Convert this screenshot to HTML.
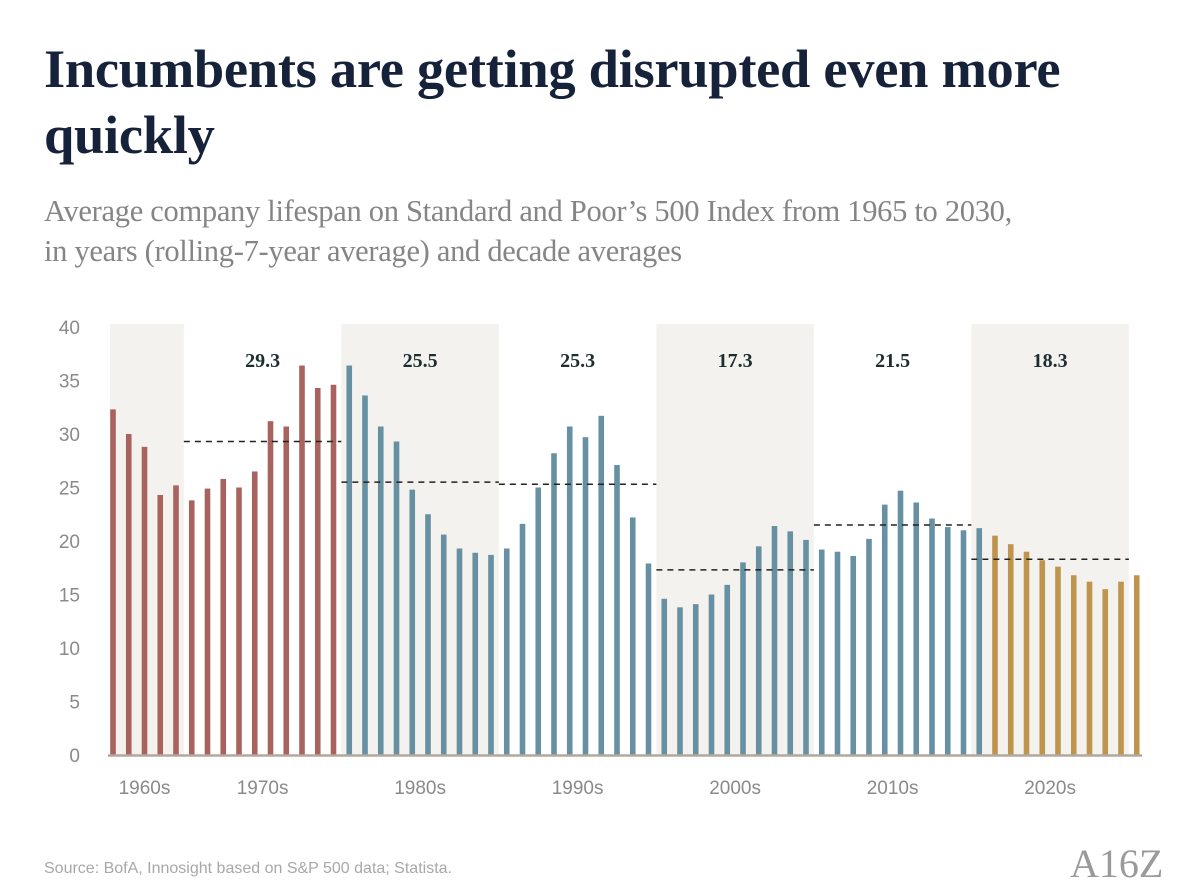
<!DOCTYPE html>
<html><head><meta charset="utf-8">
<style>
body{margin:0;background:#fff;width:1199px;height:894px;overflow:hidden;position:relative;font-family:"Liberation Serif",serif}
.title{position:absolute;left:44px;top:36px;font-size:54.5px;font-weight:bold;color:#16213a;line-height:66px;letter-spacing:-0.3px}
.sub{position:absolute;left:44px;top:191px;font-size:30.5px;color:#858585;line-height:40px;letter-spacing:-0.3px}
.src{position:absolute;left:44px;top:860px;font-family:"Liberation Sans",sans-serif;font-size:16px;color:#a8a8a8}
.logo{position:absolute;left:1070px;top:840px;font-size:40px;color:#9a9a9a}
</style></head><body>
<div class="title">Incumbents are getting disrupted even more<br>quickly</div>
<div class="sub">Average company lifespan on Standard and Poor’s 500 Index from 1965 to 2030,<br>in years (rolling-7-year average) and decade averages</div>
<svg id="chart" width="1199" height="894" style="position:absolute;left:0;top:0"></svg>
<div class="src">Source: BofA, Innosight based on S&amp;P 500 data; Statista.</div>
<div class="logo">A16Z</div>
<script>
const startYear = 1965;
const values = [32.3,30,28.8,24.3,25.2,23.8,24.9,25.8,25,26.5,31.2,30.7,36.4,34.3,34.6,
36.4,33.6,30.7,29.3,24.8,22.5,20.6,19.3,18.9,18.7,
19.3,21.6,25,28.2,30.7,29.7,31.7,27.1,22.2,17.9,
14.6,13.8,14.1,15,15.9,18,19.5,21.4,20.9,20.1,
19.2,19.0,18.6,20.2,23.4,24.7,23.6,22.1,21.3,21.0,21.2,
20.5,19.7,19.0,18.2,17.6,16.8,16.2,15.5,16.2,16.8];
const decades = ["1960s","1970s","1980s","1990s","2000s","2010s","2020s"];
const decadeStart = [1960,1970,1980,1990,2000,2010,2020];
const decadeAvg = [null,29.3,25.5,25.3,17.3,21.5,18.3];
const shaded = [true,false,true,false,true,false,true];
const yTicks = [0,5,10,15,20,25,30,35,40];

const svg = document.getElementById('chart');
const NS = 'http://www.w3.org/2000/svg';
const x = y => 113 + (y - startYear) * 15.75;
const yS = v => 755 - v * 10.7;
function mk(t, a){const e=document.createElementNS(NS,t);for(const k in a)e.setAttribute(k,a[k]);svg.appendChild(e);return e;}

decadeStart.forEach((d,i)=>{
  const x0 = Math.max(x(d-0.5), 110), x1 = x(d+9.5);
  if(shaded[i]){
    const r = mk('rect',{x:x0,y:324,width:x1-x0,height:431,fill:'#f3f2ee'});
    
    
  }
});
yTicks.forEach(t=>{
  const e = mk('text',{x:80,y:yS(t)+7,'text-anchor':'end','font-family':'Liberation Sans, sans-serif','font-size':19,fill:'#8a8a8a'});
  e.textContent = t;
  
  
});
values.forEach((v,i)=>{
  const yr = startYear + i;
  const col = yr < 1980 ? '#a8635f' : (yr < 2021 ? '#6790a3' : '#bf944d');
  const r = mk('rect',{x:x(yr)-2.8,y:yS(v),width:5.6,height:755-yS(v),fill:col});
  
  
});
mk('line',{x1:108,x2:1142,y1:755.5,y2:755.5,stroke:'#b3a89c','stroke-width':2.5});
decadeStart.forEach((d,i)=>{
  const cx = i===0 ? x(1967) : x(d+4.5);
  const lab = mk('text',{x:cx,y:794,'text-anchor':'middle','font-family':'Liberation Sans, sans-serif','font-size':19,fill:'#8a8a8a'});
  lab.textContent = decades[i];
  
  
  if(decadeAvg[i]!==null){
    const ln = mk('line',{x1:x(d-0.5),x2:x(d+9.5),y1:yS(decadeAvg[i]),y2:yS(decadeAvg[i]),stroke:'#222','stroke-width':1.5,'stroke-dasharray':'6,5'});
    
    
    const t = mk('text',{x:x(d+4.5),y:367,'text-anchor':'middle','font-family':'Liberation Serif, serif','font-size':20,'font-weight':'bold',fill:'#1c2e2e'});
    t.textContent = decadeAvg[i].toFixed(1);
    
    
  }
});
</script>
</body></html>
